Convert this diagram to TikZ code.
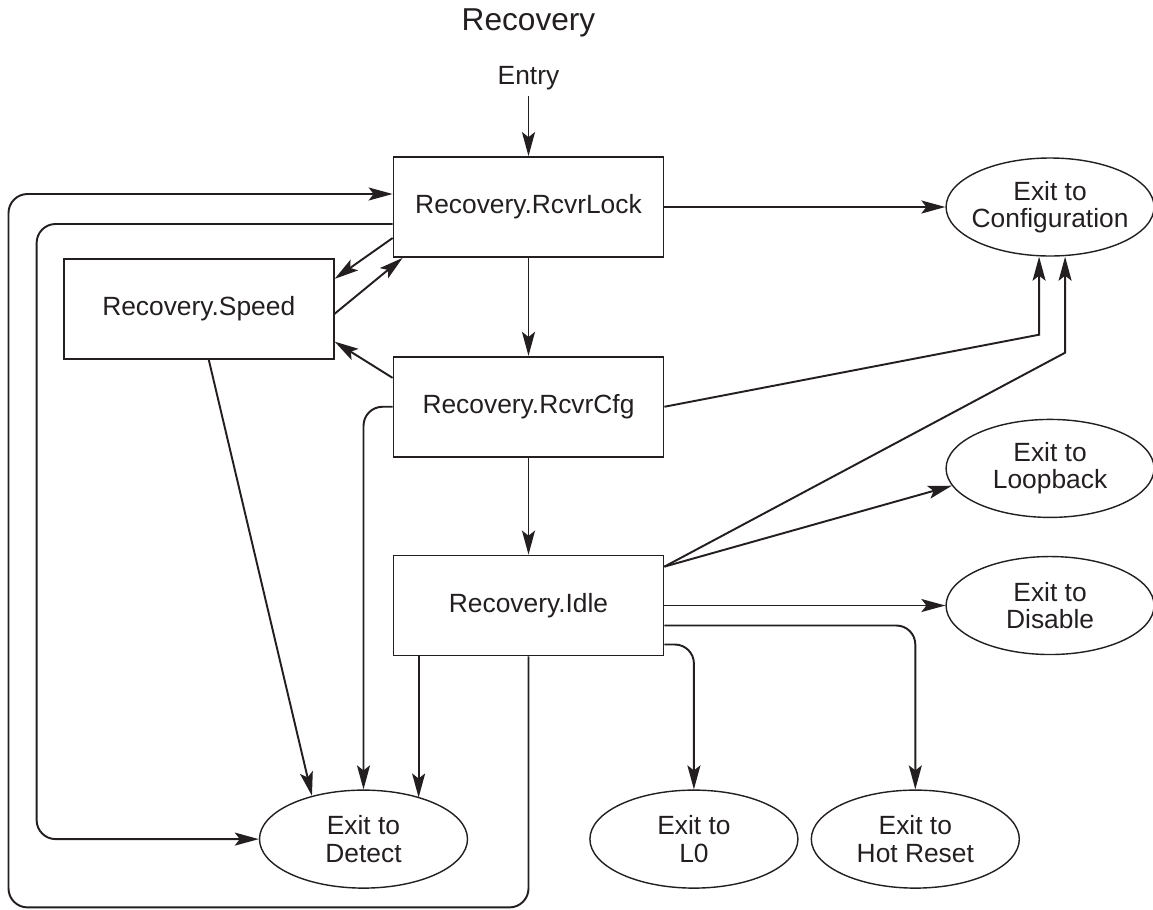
\documentclass[tikz,border=0pt]{standalone}
\usepackage{fontspec}
\setmainfont{Liberation Sans}
\usetikzlibrary{arrows.meta,positioning,shapes.geometric}
\definecolor{inkblack}{HTML}{231F20}
\tikzset{
  statebox/.style={
    draw=inkblack,
    line width=1pt,
    minimum width=5.4cm,
    minimum height=2cm,
    align=center,
    text=inkblack,
    font=\fontsize{15}{15.5}\selectfont
  },
  exitnode/.style={
    ellipse,
    draw=inkblack,
    line width=0.8pt,
    minimum width=4.16cm,
    minimum height=1.96cm,
    inner xsep=-1.2cm,
    inner ysep=0pt,
    align=center,
    text=inkblack,
    font=\fontsize{15}{15.5}\selectfont
  },
  textlabel/.style={text=inkblack, font=\fontsize{15}{15.5}\selectfont},
  flow/.style={-{Stealth[length=0.48cm,width=0.26cm,inset=0.1cm]}, line width=1.1pt, draw=inkblack},
  loopflow/.style={flow, rounded corners=0.38cm}
}

\begin{document}
\begin{tikzpicture}[node distance=1cm]
\useasboundingbox (0,0) rectangle (23.06,-18.18);

\node[statebox] (rcvrlock) at (10.57,-4.14) {Recovery.RcvrLock};
\node[statebox, below=1.96cm of rcvrlock] (rcvrcfg) {Recovery.RcvrCfg};
\node[statebox, below=1.94cm of rcvrcfg] (idle) {Recovery.Idle};
\node[statebox, below left=0cm and 1.16cm of rcvrlock] (speed) {Recovery.Speed};

\node[textlabel, above=1.2cm of rcvrlock] (entry) {Entry};
\node[textlabel, font=\fontsize{18}{22}\selectfont, above=0.33cm of entry] (title) {Recovery};

\node[exitnode, right=5.62cm of rcvrlock] (config) {Exit to\\Configuration};
\node[exitnode, below=3.24cm of config] (loopback) {Exit to\\Loopback};
\node[exitnode, right=5.62cm of idle] (disable) {Exit to\\Disable};
\node[exitnode, below=2.66cm of idle, xshift=-3.3cm] (detect) {Exit to\\Detect};
\node[exitnode, right=2.42cm of detect] (l0) {Exit to\\L0};
\node[exitnode, right=0.24cm of l0] (hotreset) {Exit to\\Hot Reset};

% Main sequence
\draw[flow] (entry) -- (rcvrlock);
\draw[flow] (rcvrlock) -- (rcvrcfg);
\draw[flow] (rcvrcfg) -- (idle);
\draw[flow] (rcvrlock) -- (config);
\draw[flow] (idle) -- (disable);

% Speed change
\draw[flow] ([yshift=-0.62cm]rcvrlock.west) -- ([yshift=-0.42cm]speed.north east);
\draw[flow] ([yshift=-0.1cm]speed.east) -- ([xshift=0.2cm]rcvrlock.south west);
\draw[flow] ([yshift=-0.44cm]rcvrcfg.north west) -- ([yshift=0.36cm]speed.south east);

% Loops back and to Detect
\draw[loopflow] (idle.south) |- ++(-10.4cm,-5.02cm) |- ([yshift=0.26cm]rcvrlock.west);
\draw[loopflow] ([yshift=-0.34cm]rcvrlock.west) -- ++(-7.12cm,0) |- (detect.west);
\draw[loopflow] (rcvrcfg.west) -| (detect.north);
\draw[flow] ([xshift=0.2cm]speed.south) -- (detect.140);
\draw[flow] ([xshift=0.52cm]idle.south west) -- ([xshift=0.52cm]idle.south west |- detect.36);

% Other exits
\draw[flow] (rcvrcfg.east) -- ([xshift=-0.22cm,yshift=-1.56cm]config.south) -- ([xshift=-0.22cm]config.south);
\draw[flow] ([yshift=-0.24cm]idle.north east) -- ([xshift=0.3cm,yshift=-1.92cm]config.south) -- ([xshift=0.3cm]config.south);
\draw[flow] ([yshift=-0.24cm]idle.north east) -- (loopback.190);
\draw[loopflow] ([yshift=-0.4cm]idle.east) -| (hotreset.north);
\draw[loopflow] ([yshift=-0.78cm]idle.east) -| (l0.north);

\end{tikzpicture}
\end{document}
